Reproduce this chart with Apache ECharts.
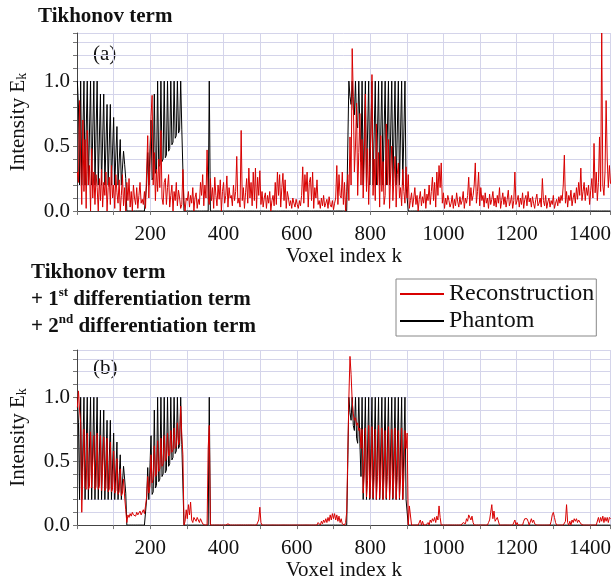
<!DOCTYPE html>
<html>
<head>
<meta charset="utf-8">
<script src="https://cdn.jsdelivr.net/npm/echarts@6/dist/echarts.min.js"></script>
<style>
  html, body { margin: 0; padding: 0; background: #fff; }
  #main { width: 614px; height: 582px; }
</style>
</head>
<body>
<div id="main"></div>
<script>
// values in hundredths, one sample every 3 voxels (k = 1, 4, 7, ...)
var phantom = [
  100,80,20,100,20,20,100,20,20,100,20,20,100,20,20,100,20,20,100,20,
  20,90,20,20,90,20,20,82,20,20,82,20,20,72,20,20,65,20,20,55,
  20,20,46,36,25,0,0,0,0,0,0,0,0,0,0,0,0,0,0,0,
  0,0,0,20,45,20,21,70,24,26,90,29,31,100,34,36,100,38,40,100,
  41,43,100,46,48,100,51,53,100,56,58,100,60,62,100,63,64,0,0,0,
  0,0,0,0,0,0,0,0,0,0,0,0,0,0,0,0,0,0,0,0,
  100,0,0,0,0,0,0,0,0,0,0,0,0,0,0,0,0,0,0,0,
  0,0,0,0,0,0,0,0,0,0,0,0,0,0,0,0,0,0,0,0,
  0,0,0,0,0,0,0,0,0,0,0,0,0,0,0,0,0,0,0,0,
  0,0,0,0,0,0,0,0,0,0,0,0,0,0,0,0,0,0,0,0,
  0,0,0,0,0,0,0,0,0,0,0,0,0,0,0,0,0,0,0,0,
  0,0,0,0,0,0,0,0,0,0,0,0,0,0,0,0,0,0,0,0,
  0,0,0,0,0,0,0,100,88,82,100,78,74,100,68,64,100,64,38,100,
  20,20,100,20,20,100,20,20,100,20,20,100,20,20,100,20,20,100,20,20,
  100,20,20,100,20,20,100,20,20,100,20,20,100,20,20,100,20,20,100,20,
  20,0,0,0,0,0,0,0,0,0,0,0,0,0,0,0,0,0,0,0,
  0,0,0,0,0,0,0,0,0,0,0,0,0,0,0,0,0,0,0,0,
  0,0,0,0,0,0,0,0,0,0,0,0,0,0,0,0,0,0,0,0,
  0,0,0,0,0,0,0,0,0,0,0,0,0,0,0,0,0,0,0,0,
  0,0,0,0,0,0,0,0,0,0,0,0,0,0,0,0,0,0,0,0,
  0,0,0,0,0,0,0,0,0,0,0,0,0,0,0,0,0,0,0,0,
  0,0,0,0,0,0,0,0,0,0,0,0,0,0,0,0,0,0,0,0,
  0,0,0,0,0,0,0,0,0,0,0,0,0,0,0,0,0,0,0,0,
  0,0,0,0,0,0,0,0,0,0,0,0,0,0,0,0,0,0,0,0,
  0,0,0,0,0,0
];

// (a) Tikhonov term only
var reconTikhonov = [
  30,22,85,40,5,70,15,55,2,62,20,35,0,48,10,30,5,28,18,0,
  25,8,32,3,22,12,30,0,18,26,5,35,10,20,2,28,14,6,24,0,
  12,28,4,18,0,22,8,25,3,15,0,20,10,5,18,2,12,22,6,9,
  5,15,2,30,58,10,35,73,89,20,45,8,32,15,40,18,62,10,5,22,
  25,5,18,28,3,12,20,0,15,8,22,4,16,10,2,5,32,8,0,10,
  8,15,3,12,6,18,0,10,14,2,9,5,22,12,28,4,20,10,47,10,
  5,25,8,18,2,26,12,4,20,9,24,0,15,22,6,12,27,3,18,10,
  12,4,20,8,15,42,6,10,3,62,8,18,2,14,25,6,33,10,22,4,
  30,8,33,2,26,12,31,5,15,3,10,14,2,12,6,15,0,8,12,4,
  22,5,30,12,28,3,18,29,8,24,2,15,10,4,8,2,10,6,3,9,
  5,2,8,4,12,34,6,28,15,30,3,22,26,8,30,2,18,10,24,5,
  8,2,10,4,12,3,6,9,2,11,5,3,8,1,6,10,35,5,28,12,
  10,30,5,22,0,15,28,8,57,20,125,88,30,50,83,12,45,75,20,55,
  10,40,90,15,48,5,35,60,105,12,40,8,67,20,45,3,58,15,38,5,
  12,67,20,55,2,30,50,8,25,42,3,28,37,10,18,4,32,15,6,34,
  10,28,2,8,14,3,10,18,5,12,0,9,15,4,11,6,17,2,13,8,
  20,5,15,26,8,22,3,30,12,35,18,37,6,14,2,10,5,12,8,3,
  6,12,2,9,4,14,7,3,11,5,8,15,2,10,6,12,26,4,18,8,
  12,20,37,6,15,30,4,18,8,12,3,14,6,10,2,13,5,9,15,4,
  10,3,12,6,18,2,8,14,5,11,3,9,16,4,7,12,2,8,30,5,
  8,12,3,10,5,14,2,9,12,4,15,7,10,3,11,6,2,9,13,4,
  6,10,3,25,8,4,12,2,7,10,3,8,5,12,2,6,9,4,11,6,
  12,8,20,43,6,15,3,12,8,16,4,10,14,6,18,9,22,12,33,8,
  15,22,8,18,12,20,5,16,25,10,52,14,30,8,22,57,15,137,20,12,
  30,85,40,18,35,21
];

// (b) Tikhonov + 1st + 2nd differentiation terms
var reconDiff = [
  92,105,90,80,10,45,75,30,28,72,28,30,73,29,30,70,28,30,72,28,
  30,70,27,28,69,27,29,68,26,28,65,26,28,58,25,27,52,24,26,44,
  23,25,36,22,12,2,8,6,9,7,10,8,9,7,10,8,9,11,8,10,
  12,9,15,22,38,25,30,55,33,36,62,38,40,66,42,44,68,46,48,70,
  50,52,72,54,56,74,57,59,76,60,62,80,63,66,93,70,55,0,3,12,
  5,16,8,18,4,2,6,7,3,6,7,2,5,4,1,0,0,0,0,60,
  78,0,0,0,0,0,0,0,0,0,0,0,0,0,0,0,1,1,0,0,
  0,0,0,0,0,0,0,0,0,0,0,0,0,0,0,0,0,0,0,0,
  0,0,0,0,0,4,14,2,0,0,0,0,0,0,0,0,0,0,0,0,
  0,0,0,0,0,0,0,0,0,0,0,0,0,0,0,0,0,0,0,0,
  0,0,0,0,0,0,0,0,0,0,0,0,0,0,0,0,0,1,0,2,
  1,0,3,1,4,2,5,2,6,3,8,4,9,5,9,4,8,3,7,2,
  5,1,0,0,2,10,55,100,132,118,97,87,82,84,78,80,74,76,60,75,
  25,40,76,22,35,78,21,38,77,21,37,75,20,38,78,21,36,76,20,37,
  74,21,38,77,20,36,75,21,38,76,20,37,74,21,36,76,20,38,74,60,
  72,0,15,14,0,0,0,0,0,0,0,0,4,0,3,0,0,0,0,2,
  0,4,2,5,3,6,2,7,4,15,6,0,0,0,0,0,0,0,0,0,
  0,0,0,0,0,0,0,0,0,0,0,2,3,1,5,3,8,9,4,7,
  2,0,0,0,0,0,0,0,0,0,0,0,0,0,2,4,10,16,5,11,
  3,2,6,5,0,0,0,0,0,0,0,0,0,0,0,0,0,0,4,0,
  2,0,0,0,0,0,3,5,6,5,3,0,0,5,2,4,1,0,0,0,
  0,0,0,0,0,0,0,0,0,0,0,3,8,10,6,2,0,0,0,0,
  0,0,0,0,3,16,2,0,3,0,4,2,5,3,5,2,4,3,1,0,
  0,0,0,0,0,0,0,0,0,0,0,0,0,0,6,2,6,3,7,2,
  6,3,6,2,6,5
];

var voxel = phantom.map(function (_, i) { return 1 + 3 * i; });
var xTickLabels = [200, 400, 600, 800, 1000, 1200, 1400];
var yTickLabels = [0, 0.5, 1.0];

function pairs(arr) {
  return voxel.map(function (k, i) { return [k, arr[i] / 100]; });
}

var FONT = "'Liberation Serif', 'Times New Roman', serif";
var RED = '#d80000';
var GRIDC = '#d4d4ea';

function makeX(idx) {
  return {
    type: 'value', gridIndex: idx, min: 0, max: 1456, interval: 100,
    axisLine: { show: true, lineStyle: { color: '#444' } },
    axisTick: { show: true, length: 4, lineStyle: { color: '#777' } },
    axisLabel: {
      margin: 13, color: '#111', fontFamily: FONT, fontSize: 21,
      formatter: function (v) { return xTickLabels.indexOf(v) >= 0 ? String(v) : ''; }
    },
    splitLine: { show: true, lineStyle: { color: GRIDC } },
    name: 'Voxel index k', nameLocation: 'middle', nameGap: 34,
    nameTextStyle: { color: '#111', fontFamily: FONT, fontSize: 21 }
  };
}

function makeY(idx) {
  return {
    type: 'value', gridIndex: idx, min: 0, max: 1.37, interval: 0.1,
    axisLine: { show: true, lineStyle: { color: '#444' } },
    axisTick: { show: true, length: 4, lineStyle: { color: '#777' } },
    axisLabel: {
      margin: 7, color: '#111', fontFamily: FONT, fontSize: 21,
      formatter: function (v) {
        var hit = yTickLabels.some(function (t) { return Math.abs(t - v) < 1e-6; });
        return hit ? v.toFixed(1) : '';
      }
    },
    splitLine: { show: true, lineStyle: { color: GRIDC } },
    name: 'Intensity E{sub|k}', nameLocation: 'middle', nameGap: 48,
    nameTextStyle: {
      color: '#111', fontFamily: FONT, fontSize: 21,
      rich: { sub: { fontSize: 14, fontFamily: FONT, color: '#111', verticalAlign: 'bottom' } }
    }
  };
}

function line(name, idx, arr, color, z) {
  return {
    type: 'line', name: name, xAxisIndex: idx, yAxisIndex: idx,
    data: pairs(arr), symbol: 'none', z: z,
    lineStyle: { color: color, width: 1 },
    itemStyle: { color: color }
  };
}

var chart = echarts.init(document.getElementById('main'));
chart.setOption({
  animation: false,
  grid: [
    { left: 77, right: 1, top: 33, height: 178 },
    { left: 77, right: 1, top: 350, height: 178 }
  ],
  xAxis: [makeX(0), makeX(1)],
  yAxis: [makeY(0), makeY(1)],
  legend: {
    data: ['Reconstruction', 'Phantom'],
    orient: 'vertical', left: 396, top: 279,
    icon: 'rect', itemWidth: 44, itemHeight: 2, itemGap: 3, itemTextGap: 10,
    padding: [3, 2, 3, 4],
    borderColor: '#888', borderWidth: 1, backgroundColor: '#fff',
    textStyle: { color: '#111', fontFamily: FONT, fontSize: 24, lineHeight: 24 }
  },
  graphic: [
    { type: 'text', left: 38, top: 6,
      style: { text: 'Tikhonov term', fontFamily: FONT, fontSize: 21, fontWeight: 'bold', fill: '#111' } },
    { type: 'text', left: 93, top: 44,
      style: { text: '(a)', fontFamily: FONT, fontSize: 21, fill: '#111' } },
    { type: 'text', left: 93, top: 358,
      style: { text: '(b)', fontFamily: FONT, fontSize: 21, fill: '#111' } },
    { type: 'text', left: 31, top: 259,
      style: {
        text: 'Tikhonov term\n+ 1{sup|st} differentiation term\n+ 2{sup|nd} differentiation term',
        fontFamily: FONT, fontSize: 21, fontWeight: 'bold', fill: '#111', lineHeight: 27,
        rich: { sup: { fontSize: 13, fontWeight: 'bold', fontFamily: FONT, fill: '#111', verticalAlign: 'top', lineHeight: 27 } }
      } }
  ],
  series: [
    line('Phantom', 0, phantom, '#000', 2),
    line('Reconstruction', 0, reconTikhonov, RED, 3),
    line('Phantom', 1, phantom, '#000', 2),
    line('Reconstruction', 1, reconDiff, RED, 3)
  ]
});
</script>
</body>
</html>
